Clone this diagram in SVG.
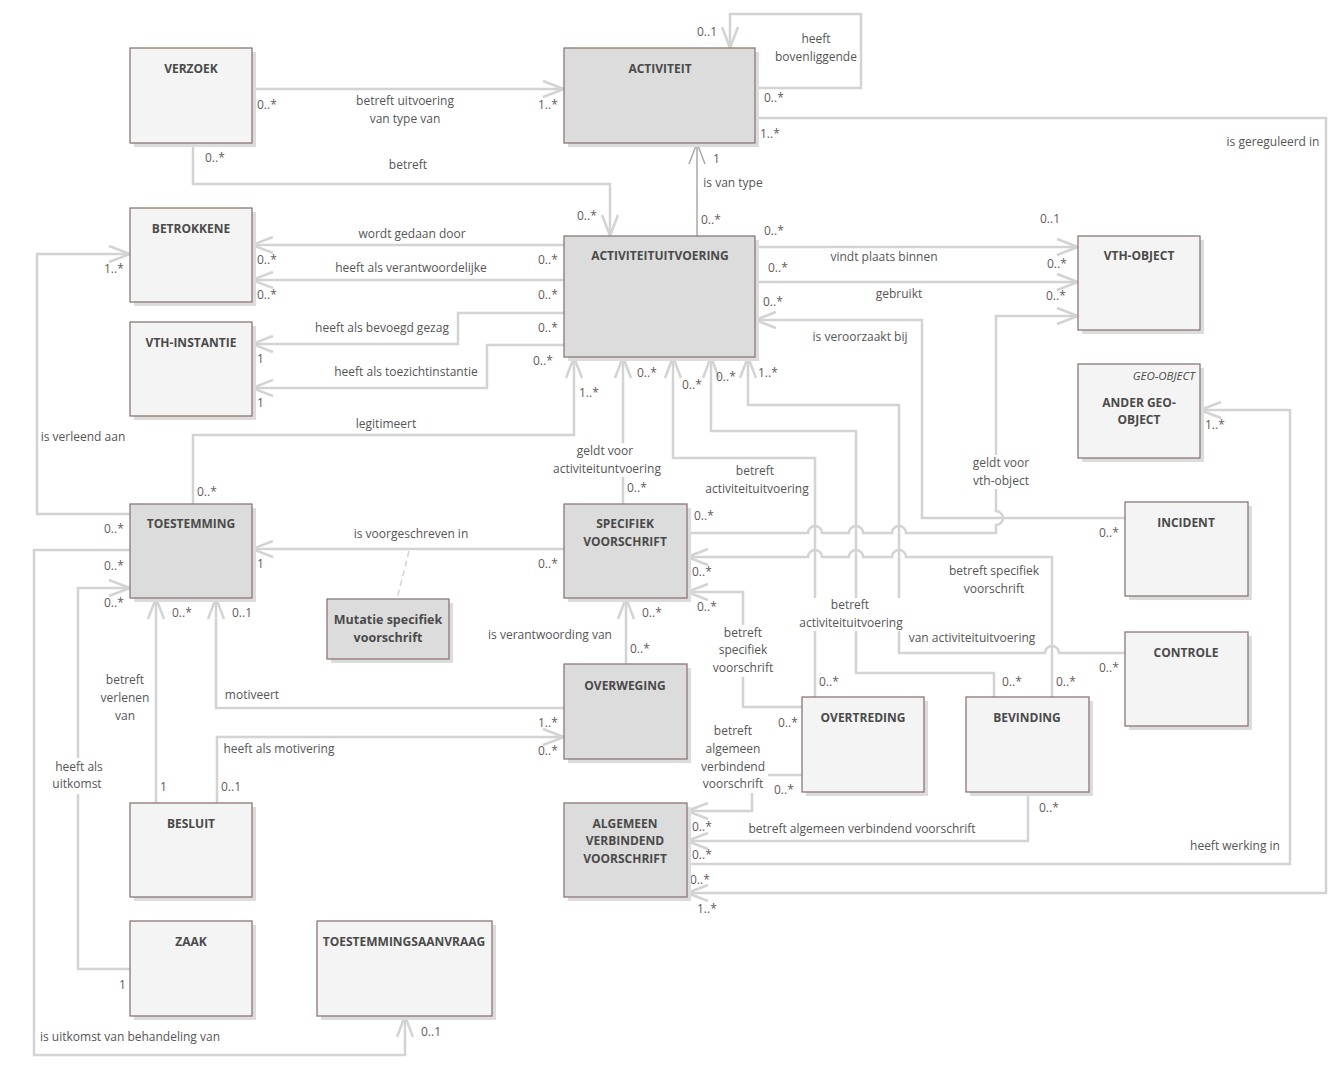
<svg xmlns="http://www.w3.org/2000/svg" width="1343" height="1071" viewBox="0 0 1343 1071">
<style>
.ln{fill:none;stroke:#d3d3d3;stroke-width:2.5}
.dk{fill:none;stroke:#a8a8a8;stroke-width:1.5}
.dash{fill:none;stroke:#d3d3d3;stroke-width:1.5;stroke-dasharray:6 4}
.sh{fill:#dcdcdc}
.lt{fill:#f4f4f4;stroke:#8e7777;stroke-width:1.3}
.gr{fill:#dcdcdc;stroke:#8e7777;stroke-width:1.3}
.t{font-family:"Open Sans","Noto Sans",sans-serif;font-size:12px;font-weight:bold;fill:#4a4a4a;text-anchor:middle}
.tm{font-family:"Open Sans","Noto Sans",sans-serif;font-size:12.5px;font-weight:bold;fill:#4a4a4a;text-anchor:middle}
.st{font-family:"Open Sans","Noto Sans",sans-serif;font-size:11.5px;font-style:italic;fill:#4a4a4a;text-anchor:end}
.l{font-family:"Open Sans","Noto Sans",sans-serif;font-size:12px;fill:#555555;text-anchor:middle}
.m{font-family:"Open Sans","Noto Sans",sans-serif;font-size:12px;fill:#665858}
.bg{fill:#ffffff}
</style>
<defs>
<marker id="ar" markerUnits="userSpaceOnUse" markerWidth="26" markerHeight="22" refX="22" refY="10" orient="auto" viewBox="0 0 26 22">
<path d="M1,2 L22,10 L1,18" fill="none" stroke="#d3d3d3" stroke-width="2.5"/>
</marker>
<marker id="ard" markerUnits="userSpaceOnUse" markerWidth="26" markerHeight="22" refX="22" refY="10" orient="auto" viewBox="0 0 26 22">
<path d="M1,2 L22,10 L1,18" fill="none" stroke="#a8a8a8" stroke-width="1.5"/>
</marker>
</defs>
<rect width="1343" height="1071" fill="#ffffff"/>

<g id="connectors">
<path class="ln" d="M253,89 H564" marker-end="url(#ar)"/>
<path class="ln" d="M193,143 V184 H610 V236" marker-end="url(#ar)"/>
<path class="ln" d="M755,88 H861 V14 H730 V48" marker-end="url(#ar)"/>
<path class="ln" d="M755,118 H1326 V893 H687" marker-end="url(#ar)"/>
<path class="dk" d="M697,236 V143" marker-end="url(#ard)"/>
<path class="ln" d="M564,245 H252" marker-end="url(#ar)"/>
<path class="ln" d="M564,280 H252" marker-end="url(#ar)"/>
<path class="ln" d="M564,313 H458 V344 H252" marker-end="url(#ar)"/>
<path class="ln" d="M564,345 H487 V388 H252" marker-end="url(#ar)"/>
<path class="ln" d="M130,514 H37 V254 H130" marker-end="url(#ar)"/>
<path class="ln" d="M193,504 V435 H574 V357" marker-end="url(#ar)"/>
<path class="ln" d="M564,549 H252" marker-end="url(#ar)"/>
<path class="dash" d="M409,551 L397,599"/>
<path class="ln" d="M623,504 V357" marker-end="url(#ar)"/>
<path class="ln" d="M626,664 V598" marker-end="url(#ar)"/>
<path class="ln" d="M564,708 H216 V598" marker-end="url(#ar)"/>
<path class="ln" d="M217,803 V737 H564" marker-end="url(#ar)"/>
<path class="ln" d="M156,803 V598" marker-end="url(#ar)"/>
<path class="ln" d="M130,969 H78 V588 H130" marker-end="url(#ar)"/>
<path class="ln" d="M130,550 H34 V1055 H405 V1016" marker-end="url(#ar)"/>
<path class="ln" d="M755,247 H1078" marker-end="url(#ar)"/>
<path class="ln" d="M755,282 H1078" marker-end="url(#ar)"/>
<path class="ln" d="M1125,518 H922 V320 H755" marker-end="url(#ar)"/>
<path class="ln" d="M687,533 H808 A7,7 0 0 1 822,533 H849 A7,7 0 0 1 863,533 H892 A7,7 0 0 1 906,533 H996 V525 A7,7 0 0 0 996,511 V316 H1078" marker-end="url(#ar)"/>
<path class="ln" d="M1052,697 V557 H906 A7,7 0 0 0 892,557 H863 A7,7 0 0 0 849,557 H822 A7,7 0 0 0 808,557 H687" marker-end="url(#ar)"/>
<path class="ln" d="M802,707 H743 V592 H687" marker-end="url(#ar)"/>
<path class="ln" d="M815,698 V458 H673 V357" marker-end="url(#ar)"/>
<path class="ln" d="M994,697 V673 H856 V431 H711 V357" marker-end="url(#ar)"/>
<path class="ln" d="M1125,653 H1059 A7,7 0 0 0 1045,653 H899 V405 H748 V357" marker-end="url(#ar)"/>
<path class="ln" d="M802,775 H752 V811 H687" marker-end="url(#ar)"/>
<path class="ln" d="M1028,792 V841 H687" marker-end="url(#ar)"/>
<path class="ln" d="M687,864 H1290 V410 H1200" marker-end="url(#ar)"/>

<rect class="bg" x="48" y="758" width="60" height="36"/>
<rect class="bg" x="968" y="455" width="66" height="34"/>
<rect class="bg" x="547" y="443" width="120" height="34"/>
<rect class="bg" x="794" y="598" width="114" height="33"/>
<rect class="bg" x="710" y="625" width="66" height="52"/>
<rect class="bg" x="700" y="723" width="68" height="70"/>

<text class="l" x="405" y="105">betreft uitvoering</text>
<text class="l" x="405" y="123">van type van</text>
<text class="l" x="408" y="169">betreft</text>
<text class="l" x="816" y="43">heeft</text>
<text class="l" x="816" y="61">bovenliggende</text>
<text class="l" x="1273" y="146">is gereguleerd in</text>
<text class="l" x="733" y="187">is van type</text>
<text class="l" x="412" y="238">wordt gedaan door</text>
<text class="l" x="411" y="272">heeft als verantwoordelijke</text>
<text class="l" x="884" y="261">vindt plaats binnen</text>
<text class="l" x="899" y="298">gebruikt</text>
<text class="l" x="382" y="332">heeft als bevoegd gezag</text>
<text class="l" x="860" y="341">is veroorzaakt bij</text>
<text class="l" x="406" y="376">heeft als toezichtinstantie</text>
<text class="l" x="386" y="428">legitimeert</text>
<text class="l" x="83" y="441">is verleend aan</text>
<text class="l" x="605" y="455">geldt voor</text>
<text class="l" x="607" y="473">activiteituntvoering</text>
<text class="l" x="755" y="475">betreft</text>
<text class="l" x="757" y="493">activiteituitvoering</text>
<text class="l" x="1001" y="467">geldt voor</text>
<text class="l" x="1001" y="485">vth-object</text>
<text class="l" x="411" y="538">is voorgeschreven in</text>
<text class="l" x="994" y="575">betreft specifiek</text>
<text class="l" x="994" y="593">voorschrift</text>
<text class="l" x="850" y="609">betreft</text>
<text class="l" x="851" y="627">activiteituitvoering</text>
<text class="l" x="743" y="637">betreft</text>
<text class="l" x="743" y="654">specifiek</text>
<text class="l" x="743" y="672">voorschrift</text>
<text class="l" x="550" y="639">is verantwoording van</text>
<text class="l" x="972" y="642">van activiteituitvoering</text>
<text class="l" x="125" y="684">betreft</text>
<text class="l" x="125" y="702">verlenen</text>
<text class="l" x="125" y="720">van</text>
<text class="l" x="252" y="699">motiveert</text>
<text class="l" x="733" y="735">betreft</text>
<text class="l" x="733" y="753">algemeen</text>
<text class="l" x="733" y="771">verbindend</text>
<text class="l" x="733" y="788">voorschrift</text>
<text class="l" x="279" y="753">heeft als motivering</text>
<text class="l" x="79" y="771">heeft als</text>
<text class="l" x="77" y="788">uitkomst</text>
<text class="l" x="862" y="833">betreft algemeen verbindend voorschrift</text>
<text class="l" x="1235" y="850">heeft werking in</text>
<text class="l" x="130" y="1041">is uitkomst van behandeling van</text>

<text class="m" x="257" y="109">0..*</text>
<text class="m" x="538" y="109">1..*</text>
<text class="m" x="205" y="162">0..*</text>
<text class="m" x="697" y="36">0..1</text>
<text class="m" x="764" y="102">0..*</text>
<text class="m" x="760" y="138">1..*</text>
<text class="m" x="713" y="163">1</text>
<text class="m" x="577" y="220">0..*</text>
<text class="m" x="701" y="224">0..*</text>
<text class="m" x="764" y="235">0..*</text>
<text class="m" x="1040" y="223">0..1</text>
<text class="m" x="104" y="273">1..*</text>
<text class="m" x="257" y="264">0..*</text>
<text class="m" x="257" y="299">0..*</text>
<text class="m" x="538" y="264">0..*</text>
<text class="m" x="538" y="299">0..*</text>
<text class="m" x="768" y="272">0..*</text>
<text class="m" x="1047" y="268">0..*</text>
<text class="m" x="538" y="332">0..*</text>
<text class="m" x="763" y="306">0..*</text>
<text class="m" x="1046" y="300">0..*</text>
<text class="m" x="257" y="363">1</text>
<text class="m" x="533" y="365">0..*</text>
<text class="m" x="257" y="407">1</text>
<text class="m" x="579" y="397">1..*</text>
<text class="m" x="637" y="377">0..*</text>
<text class="m" x="682" y="389">0..*</text>
<text class="m" x="716" y="381">0..*</text>
<text class="m" x="758" y="377">1..*</text>
<text class="m" x="1205" y="429">1..*</text>
<text class="m" x="197" y="496">0..*</text>
<text class="m" x="627" y="492">0..*</text>
<text class="m" x="694" y="520">0..*</text>
<text class="m" x="104" y="533">0..*</text>
<text class="m" x="1099" y="537">0..*</text>
<text class="m" x="104" y="570">0..*</text>
<text class="m" x="257" y="568">1</text>
<text class="m" x="538" y="568">0..*</text>
<text class="m" x="692" y="576">0..*</text>
<text class="m" x="104" y="607">0..*</text>
<text class="m" x="172" y="617">0..*</text>
<text class="m" x="232" y="617">0..1</text>
<text class="m" x="642" y="617">0..*</text>
<text class="m" x="697" y="611">0..*</text>
<text class="m" x="630" y="653">0..*</text>
<text class="m" x="1099" y="672">0..*</text>
<text class="m" x="819" y="686">0..*</text>
<text class="m" x="1002" y="686">0..*</text>
<text class="m" x="1056" y="686">0..*</text>
<text class="m" x="538" y="727">1..*</text>
<text class="m" x="778" y="727">0..*</text>
<text class="m" x="538" y="755">0..*</text>
<text class="m" x="221" y="791">0..1</text>
<text class="m" x="160" y="791">1</text>
<text class="m" x="774" y="794">0..*</text>
<text class="m" x="1039" y="812">0..*</text>
<text class="m" x="692" y="831">0..*</text>
<text class="m" x="692" y="859">0..*</text>
<text class="m" x="690" y="884">0..*</text>
<text class="m" x="697" y="913">1..*</text>
<text class="m" x="119" y="989">1</text>
<text class="m" x="421" y="1036">0..1</text>
</g>

<g id="verzoek"><rect class="sh" x="134" y="52" width="122" height="95"/><rect class="lt" x="130" y="48" width="122" height="95"/><text class="t" x="191" y="73">VERZOEK</text></g>
<g id="activiteit"><rect class="sh" x="568" y="52" width="191" height="95"/><rect class="gr" x="564" y="48" width="191" height="95"/><text class="t" x="660" y="73">ACTIVITEIT</text></g>
<g id="betrokkene"><rect class="sh" x="134" y="212" width="122" height="94"/><rect class="lt" x="130" y="208" width="122" height="94"/><text class="t" x="191" y="233">BETROKKENE</text></g>
<g id="activiteituitvoering"><rect class="sh" x="568" y="240" width="191" height="121"/><rect class="gr" x="564" y="236" width="191" height="121"/><text class="t" x="660" y="260">ACTIVITEITUITVOERING</text></g>
<g id="vth-object"><rect class="sh" x="1082" y="240" width="122" height="94"/><rect class="lt" x="1078" y="236" width="122" height="94"/><text class="t" x="1139" y="260">VTH-OBJECT</text></g>
<g id="vth-instantie"><rect class="sh" x="134" y="326" width="122" height="94"/><rect class="lt" x="130" y="322" width="122" height="94"/><text class="t" x="191" y="347">VTH-INSTANTIE</text></g>
<g id="ander-geo-object"><rect class="sh" x="1082" y="368" width="122" height="94"/><rect class="lt" x="1078" y="364" width="122" height="94"/><text class="st" x="1195" y="380">GEO-OBJECT</text><text class="t" x="1139" y="407">ANDER GEO-</text><text class="t" x="1139" y="424">OBJECT</text></g>
<g id="toestemming"><rect class="sh" x="134" y="508" width="122" height="94"/><rect class="gr" x="130" y="504" width="122" height="94"/><text class="t" x="191" y="528">TOESTEMMING</text></g>
<g id="specifiek-voorschrift"><rect class="sh" x="568" y="508" width="123" height="94"/><rect class="gr" x="564" y="504" width="123" height="94"/><text class="t" x="625" y="528">SPECIFIEK</text><text class="t" x="625" y="546">VOORSCHRIFT</text></g>
<g id="incident"><rect class="sh" x="1129" y="506" width="123" height="94"/><rect class="lt" x="1125" y="502" width="123" height="94"/><text class="t" x="1186" y="527">INCIDENT</text></g>
<g id="mutatie"><rect class="sh" x="331" y="603" width="122" height="60"/><rect class="gr" x="327" y="599" width="122" height="60"/><text class="tm" x="388" y="624">Mutatie specifiek</text><text class="tm" x="388" y="642">voorschrift</text></g>
<g id="controle"><rect class="sh" x="1129" y="636" width="123" height="94"/><rect class="lt" x="1125" y="632" width="123" height="94"/><text class="t" x="1186" y="657">CONTROLE</text></g>
<g id="overweging"><rect class="sh" x="568" y="668" width="123" height="95"/><rect class="gr" x="564" y="664" width="123" height="95"/><text class="t" x="625" y="690">OVERWEGING</text></g>
<g id="overtreding"><rect class="sh" x="806" y="701" width="122" height="95"/><rect class="lt" x="802" y="697" width="122" height="95"/><text class="t" x="863" y="722">OVERTREDING</text></g>
<g id="bevinding"><rect class="sh" x="970" y="701" width="123" height="95"/><rect class="lt" x="966" y="697" width="123" height="95"/><text class="t" x="1027" y="722">BEVINDING</text></g>
<g id="algemeen-verbindend-voorschrift"><rect class="sh" x="568" y="807" width="123" height="94"/><rect class="gr" x="564" y="803" width="123" height="94"/><text class="t" x="625" y="828">ALGEMEEN</text><text class="t" x="625" y="845">VERBINDEND</text><text class="t" x="625" y="863">VOORSCHRIFT</text></g>
<g id="besluit"><rect class="sh" x="134" y="807" width="122" height="94"/><rect class="lt" x="130" y="803" width="122" height="94"/><text class="t" x="191" y="828">BESLUIT</text></g>
<g id="zaak"><rect class="sh" x="134" y="925" width="122" height="95"/><rect class="lt" x="130" y="921" width="122" height="95"/><text class="t" x="191" y="946">ZAAK</text></g>
<g id="toestemmingsaanvraag"><rect class="sh" x="321" y="925" width="175" height="95"/><rect class="lt" x="317" y="921" width="175" height="95"/><text class="t" x="404" y="946">TOESTEMMINGSAANVRAAG</text></g>
</svg>
